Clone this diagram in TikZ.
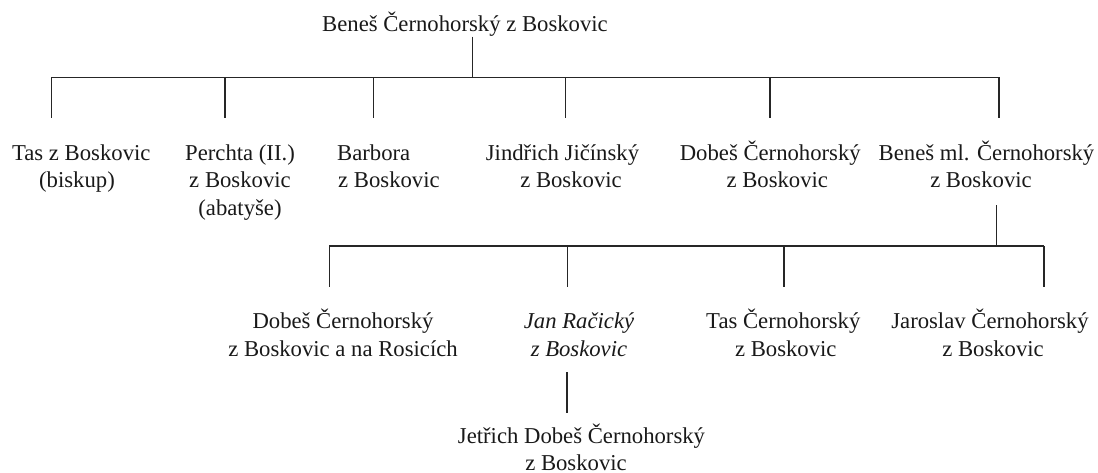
\documentclass[tikz,border=0pt]{standalone}
\usepackage{fontspec}
\setmainfont{Liberation Serif}
\newcommand{\famtext}[2][c]{\begin{tabular}[t]{@{}#1@{}}#2\end{tabular}}
\begin{document}
\begin{tikzpicture}[x=1pt,y=-1pt,
  person/.style={inner sep=0pt, anchor=base, font=\fontsize{22.7}{27.8}\selectfont, text=black!90},
  personl/.style={person, anchor=base west},
  link/.style={line width=1.2pt, black!85}]
\useasboundingbox (0,0) rectangle (1098,472);
% nodes
\node[person] (benes) at (465,31.7) {Beneš Černohorský z Boskovic};
\node[person] (tas) at (81.3,160) {\famtext{Tas z Boskovic\\(biskup)\hspace*{8.6pt}}};
\node[person] (perchta) at (240,160) {\famtext{Perchta (II.)\\z Boskovic\\(abatyše)}};
\node[personl] (barbora) at (337,160) {\famtext[l]{Barbora\\\hspace*{1pt}z Boskovic}};
\node[person] (jindrich) at (562.5,160) {\famtext{Jindřich Jičínský\\\hspace*{17pt}z Boskovic}};
\node[person] (dobes) at (770.3,160) {\famtext{Dobeš Černohorský\\\hspace*{14pt}z Boskovic}};
\node[person] (benesml) at (986.5,160) {\famtext{Beneš ml. Černohorský\\z Boskovic\hspace*{11pt}}};
\node[person] (dobes2) at (343,328.3) {\famtext{Dobeš Černohorský\\z Boskovic a na Rosicích}};
\node[person, font=\fontsize{22.7}{27.8}\selectfont\itshape] (jan) at (579,328.3) {\famtext{Jan Račický\\z Boskovic}};
\node[person] (tas2) at (783.3,328.3) {\famtext{Tas Černohorský\\\hspace*{5pt}z Boskovic}};
\node[person] (jaroslav) at (990,328.3) {\famtext{Jaroslav Černohorský\\\hspace*{6pt}z Boskovic}};
\node[person] (jetrich) at (581.5,443) {\famtext{Jetřich Dobeš Černohorský\\z Boskovic\hspace*{11pt}}};
% bus coordinates
\coordinate (b0) at (472.7,77.3);
\coordinate (b1) at (51.7,77.3);
\coordinate (b6) at (999,77.3);
\coordinate (c0) at (996.7,246);
\coordinate (c1) at (329.3,246);
\coordinate (c4) at (1044,246);
% drop ends
\coordinate (e0) at (472.7,36.7);
\coordinate (d1) at (51.7,118.3);
\coordinate (d2) at (225,118.3);
\coordinate (d3) at (373.3,118.3);
\coordinate (d4) at (565.7,118.3);
\coordinate (d5) at (770,118.3);
\coordinate (d6) at (999,118.3);
\coordinate (u6) at (996.7,205);
\coordinate (f1) at (329.3,286.7);
\coordinate (f2) at (567.3,286.7);
\coordinate (f3) at (784,286.7);
\coordinate (f4) at (1044,286.7);
\coordinate (g1) at (567,372);
\coordinate (g2) at (567,412.5);
% connectors
\draw[link] (e0) -- (b0);
\draw[link] (b1) -- (b6);
\foreach \d in {d1,d2,d3,d4,d5,d6} \draw[link] (b1 -| \d) -- (\d);
\draw[link] (u6) -- (c0);
\draw[link] (c1) -- (c4);
\foreach \f in {f1,f2,f3,f4} \draw[link] (c1 -| \f) -- (\f);
\draw[link] (g1) -- (g2);
\end{tikzpicture}
\end{document}
